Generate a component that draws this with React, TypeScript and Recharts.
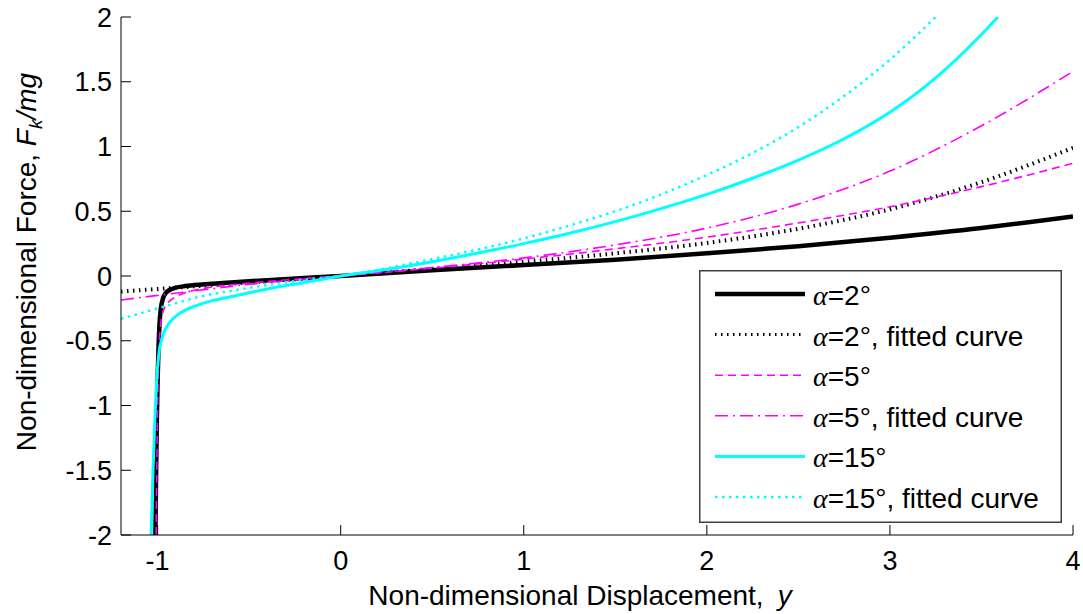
import React from 'react';
import { LineChart, Line, XAxis, YAxis, Legend } from 'recharts';

// Non-dimensional force vs displacement

const FONT = '"Liberation Sans", Arial, sans-serif';

const xTicks = [-1, 0, 1, 2, 3, 4];
const yTicks = [-2, -1.5, -1, -0.5, 0, 0.5, 1, 1.5, 2];

const alpha2X = [-1.012, -1.008, -1.004, -1.0, -0.995, -0.99, -0.982, -0.97, -0.955, -0.93, -0.9, -0.85, -0.8, -0.6, -0.4, -0.2, 0, 0.5, 1, 1.5, 2, 2.5, 3, 3.5, 4];
const alpha2F = [-2, -1.5, -1.1, -0.8, -0.55, -0.38, -0.25, -0.17, -0.13, -0.105, -0.09, -0.078, -0.07, -0.05, -0.032, -0.016, 0, 0.045, 0.085, 0.125, 0.175, 0.23, 0.295, 0.37, 0.46];

const alpha2FitX = [-1.2, -1, -0.8, -0.6, -0.4, -0.2, 0, 0.5, 1, 1.5, 2, 2.5, 3, 3.5, 4];
const alpha2FitF = [-0.12, -0.1, -0.08, -0.06, -0.04, -0.02, 0, 0.055, 0.11, 0.175, 0.255, 0.365, 0.515, 0.725, 0.99];

const alpha5X = [-1.008, -1.004, -1.0, -0.995, -0.988, -0.975, -0.96, -0.94, -0.9, -0.85, -0.8, -0.7, -0.5, -0.25, 0, 0.5, 1, 1.5, 2, 2.5, 3, 3.5, 4];
const alpha5F = [-2, -1.4, -1.0, -0.7, -0.45, -0.3, -0.24, -0.2, -0.16, -0.13, -0.11, -0.085, -0.055, -0.025, 0, 0.06, 0.13, 0.21, 0.3, 0.41, 0.535, 0.69, 0.87];

const alpha5FitX = [-1.2, -1, -0.8, -0.6, -0.4, -0.2, 0, 0.5, 1, 1.5, 2, 2.5, 3, 3.5, 4];
const alpha5FitF = [-0.185, -0.15, -0.115, -0.08, -0.05, -0.025, 0, 0.065, 0.14, 0.24, 0.37, 0.555, 0.81, 1.16, 1.58];

const alpha15X = [-1.035, -1.025, -1.015, -1.005, -0.995, -0.98, -0.96, -0.94, -0.9, -0.85, -0.8, -0.7, -0.6, -0.5, -0.4, -0.2, 0, 0.25, 0.5, 0.75, 1, 1.25, 1.5, 1.75, 2, 2.25, 2.5, 2.75, 3, 3.25, 3.5, 3.59];
const alpha15F = [-2, -1.5, -1.1, -0.8, -0.62, -0.5, -0.42, -0.37, -0.31, -0.265, -0.235, -0.19, -0.16, -0.13, -0.1, -0.05, 0, 0.05, 0.11, 0.177, 0.25, 0.33, 0.42, 0.52, 0.63, 0.755, 0.895, 1.06, 1.265, 1.53, 1.865, 2.0];

const alpha15FitX = [-1.2, -1.1, -1, -0.9, -0.8, -0.6, -0.4, -0.2, 0, 0.25, 0.5, 0.75, 1, 1.25, 1.5, 1.75, 2, 2.25, 2.5, 2.75, 3, 3.25];
const alpha15FitF = [-0.33, -0.29, -0.25, -0.21, -0.17, -0.115, -0.07, -0.03, 0, 0.06, 0.13, 0.205, 0.29, 0.39, 0.5, 0.63, 0.78, 0.95, 1.15, 1.39, 1.67, 2.0];

const toPoints = (xs: number[], fs: number[]) => xs.map((x, i) => ({ x, f: fs[i] }));

const series = [
  { key: 'a2', angle: '2', fitted: false, data: toPoints(alpha2X, alpha2F), stroke: '#000000', width: 4.5, legendWidth: 4.5, dash: undefined },
  { key: 'a2fit', angle: '2', fitted: true, data: toPoints(alpha2FitX, alpha2FitF), stroke: '#000000', width: 4, legendWidth: 3, dash: '1.5 4.5' },
  { key: 'a5', angle: '5', fitted: false, data: toPoints(alpha5X, alpha5F), stroke: '#ff00ff', width: 1.6, legendWidth: 1.6, dash: '8 5' },
  { key: 'a5fit', angle: '5', fitted: true, data: toPoints(alpha5FitX, alpha5FitF), stroke: '#ff00ff', width: 1.6, legendWidth: 1.6, dash: '13 5 2 5' },
  { key: 'a15', angle: '15', fitted: false, data: toPoints(alpha15X, alpha15F), stroke: '#00ffff', width: 3, legendWidth: 3, dash: undefined },
  { key: 'a15fit', angle: '15', fitted: true, data: toPoints(alpha15FitX, alpha15FitF), stroke: '#00ffff', width: 2.5, legendWidth: 2.5, dash: '2.5 4.5' },
];

function PlotLegend() {
  return (
    <svg width={363} height={253} style={{ display: 'block' }}>
      <rect x={0.75} y={0.75} width={361.5} height={251.5} fill="#ffffff" stroke="#404040" strokeWidth={1.5} />
      {series.map((s, i) => {
        const y = 24 + i * 40.6;
        return (
          <g key={s.key}>
            <line x1={16} x2={106} y1={y} y2={y} stroke={s.stroke} strokeWidth={s.legendWidth} strokeDasharray={s.dash} />
            <text x={114} y={y + 11} fontFamily={FONT} fontSize={28} fill="#000">
              <tspan fontStyle="italic" fontFamily='"Liberation Serif", serif'>α</tspan>
              <tspan>={s.angle}°{s.fitted ? ', fitted curve' : ''}</tspan>
            </text>
          </g>
        );
      })}
    </svg>
  );
}

function XTitle() {
  return (
    <text x={580} y={605} textAnchor="middle" fontFamily={FONT} fontSize={28} fill="#000">
      Non-dimensional Displacement,
      <tspan dx={14} fontStyle="italic">y</tspan>
    </text>
  );
}

function YTitle() {
  return (
    <text transform="translate(36, 262) rotate(-90)" textAnchor="middle" fontFamily={FONT} fontSize={28} fill="#000">
      Non-dimensional Force,{' '}
      <tspan fontStyle="italic">F</tspan>
      <tspan fontStyle="italic" fontSize={19} dy={6}>k</tspan>
      <tspan fontStyle="italic" dy={-6}>/mg</tspan>
    </text>
  );
}

export default function App() {
  const tickStyle = { fontFamily: FONT, fontSize: 27, fill: '#000' };
  return (
    <div style={{ position: 'absolute', left: 0, top: 0, width: 1083, height: 614, background: '#ffffff' }}>
      <LineChart width={1083} height={614} margin={{ top: 17, right: 10, bottom: 0, left: 0 }}>
        <XAxis
          type="number"
          dataKey="x"
          domain={[-1.2, 4]}
          ticks={xTicks}
          allowDataOverflow
          height={79}
          tickSize={-10}
          tickMargin={26}
          tick={tickStyle}
          stroke="#000"
          axisLine={{ stroke: '#000', strokeWidth: 1 }}
          tickLine={{ stroke: '#000', strokeWidth: 1 }}
          label={<XTitle />}
        />
        <YAxis
          type="number"
          dataKey="f"
          domain={[-2, 2]}
          ticks={yTicks}
          allowDataOverflow
          width={121}
          tickSize={-10}
          tickMargin={19}
          tick={tickStyle}
          stroke="#000"
          axisLine={{ stroke: '#000', strokeWidth: 1 }}
          tickLine={{ stroke: '#000', strokeWidth: 1 }}
          label={<YTitle />}
        />
        <Legend
          layout="vertical"
          verticalAlign="middle"
          align="center"
          content={() => <PlotLegend />}
          wrapperStyle={{ left: 699, top: 270, width: 363, height: 253 }}
        />
        {series.map((s) => (
          <Line
            key={s.key}
            data={s.data}
            dataKey="f"
            type="monotone"
            stroke={s.stroke}
            strokeWidth={s.width}
            strokeDasharray={s.dash}
            strokeLinecap="butt"
            dot={false}
            activeDot={false}
            isAnimationActive={false}
            legendType="none"
          />
        ))}
      </LineChart>
    </div>
  );
}
